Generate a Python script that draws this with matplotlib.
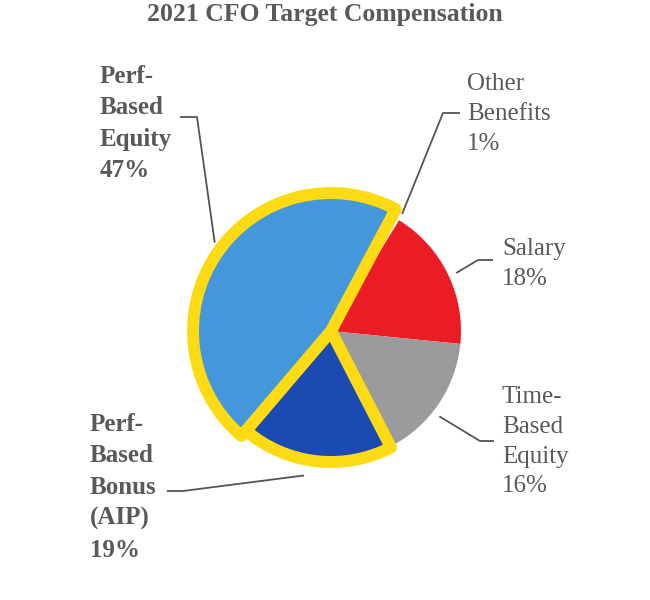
import numpy as np
import matplotlib
matplotlib.use("Agg")
import matplotlib.pyplot as plt

# Data
labels = ["Other\nBenefits", "Salary", "Time-\nBased\nEquity", "Perf-\nBased\nBonus\n(AIP)", "Perf-\nBased\nEquity"]
values = [1, 18, 16, 19, 47]
colors = ["#FFFFFF", "#EC1C24", "#9B9A9C", "#1A4AB2", "#4597DC"]
highlight = [False, False, False, True, True]

# Plot settings
W, H = 650, 600
def Y(y):
    return H - y

plt.rcParams['font.family'] = ['Liberation Serif', 'DejaVu Serif']
txt_col = "#595959"
yellow = "#FCDB14"

f = plt.figure(figsize=(6.5, 6), dpi=100)
ax = f.add_axes([0, 0, 1, 1])

cx, cy, r = 331, Y(331), 130
wedges, _ = ax.pie(values, colors=colors, startangle=62, counterclock=False,
                   center=(cx, cy), radius=r, wedgeprops=dict(linewidth=0))
# highlighted slices a bit larger with a thick yellow border
hl_radius = {3: 131, 4: 138}
for i, w in enumerate(wedges):
    if highlight[i]:
        w.set_radius(hl_radius[i])
        w.set_edgecolor(yellow)
        w.set_linewidth(8.6)
        w.set_joinstyle('round')
        w.set_zorder(3)

ax.set_xlim(0, W)
ax.set_ylim(0, H)
ax.set_aspect('equal')
ax.axis('off')

# Title
ax.text(325, Y(14), "2021 CFO Target Compensation", ha='center', va='center',
        fontsize=18.5, fontweight='bold', color=txt_col)

# Labels: text position, elbow point, end of horizontal, radius of leader start
label_pos = [(467, 73), (502, 238), (502, 386), (90, 413), (100, 65)]
elbows = [(443, 113), (478, 260), (480, 441), (183, 491), (197, 117)]
ends = [(460, 113), (493, 260), (494, 441), (167, 491), (180, 117)]
starts_r = [137, 138, 138, 147, 146]
start_off = [-1.5, -1.5, -4, -4, -3]

for i, w in enumerate(wedges):
    mid = np.deg2rad((w.theta1 + w.theta2) / 2 + start_off[i])
    sx = cx + starts_r[i] * np.cos(mid)
    sy = cy + starts_r[i] * np.sin(mid)
    ex, ey = elbows[i]
    hx, hy = ends[i]
    ax.plot([sx, ex, hx], [sy, Y(ey), Y(hy)], color="#555555", lw=1.3,
            solid_capstyle='butt', zorder=4)
    pct = "%d%%" % values[i]
    bold = highlight[i]
    ax.text(label_pos[i][0], Y(label_pos[i][1]), labels[i] + "\n" + pct,
            ha='left', va='top', fontsize=18, linespacing=1.46,
            fontweight='bold' if bold else 'normal', color=txt_col)

plt.savefig("out.png", dpi=100)
